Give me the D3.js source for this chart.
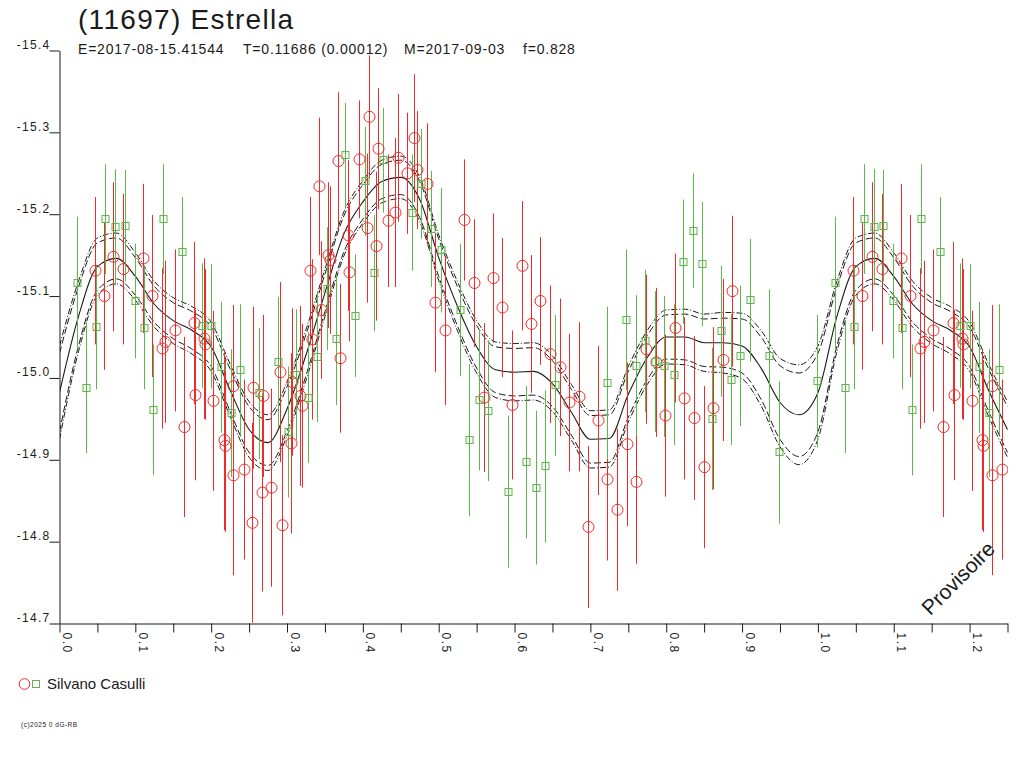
<!DOCTYPE html>
<html>
<head>
<meta charset="utf-8">
<script src="https://cdn.jsdelivr.net/npm/d3@7"></script>
<style>
	body { margin: 0; background: #fff; }
	svg { display: block; font-family: "Liberation Sans", Arial, sans-serif; }
</style>
</head>
<body>
<svg id="chart" width="1024" height="768"></svg>
<script>
// lightcurve of (11697) Estrella, phase vs reduced magnitude

const title = "(11697) Estrella";
const infoParts = ["E=2017-08-15.41544", "T=0.11686 (0.00012)", "M=2017-09-03", "f=0.828"];
const observer = "Silvano Casulli";

const xTickLabels = ["0.0", "0.1", "0.2", "0.3", "0.4", "0.5", "0.6", "0.7", "0.8", "0.9", "1.0", "1.1", "1.2"];
const yTickLabels = ["-15.4", "-15.3", "-15.2", "-15.1", "-15.0", "-14.9", "-14.8", "-14.7"];

// red circles
const redPhase = [0.0465, 0.0588, 0.0712, 0.0840, 0.1096, 0.1219, 0.1347, 0.1396, 0.1524, 0.1647,
	0.1775, 0.1793, 0.1903, 0.1917, 0.2027, 0.2164, 0.2177, 0.2292, 0.2292, 0.2428,
	0.2543, 0.2552, 0.2667, 0.2680, 0.2790, 0.2914, 0.2936, 0.3046, 0.3060, 0.3170,
	0.3201, 0.3298, 0.3329, 0.3421, 0.3443, 0.3544, 0.3561, 0.3693, 0.3675, 0.3803,
	0.3820, 0.3947, 0.4057, 0.4075, 0.4175, 0.4202, 0.4329, 0.4430, 0.4457, 0.4583,
	0.4680, 0.4711, 0.4842, 0.4956, 0.5088, 0.5333, 0.5461, 0.5597, 0.5715, 0.5838,
	0.5965, 0.6092, 0.6215, 0.6342, 0.6469, 0.6597, 0.6719, 0.6851, 0.6974, 0.7097,
	0.7225, 0.7352, 0.7480, 0.7603, 0.7731, 0.7859, 0.7982, 0.8110, 0.8238, 0.8366,
	0.8493, 0.8617, 0.8744, 0.8863];
const redMag = [-15.131, -15.100, -15.148, -15.133, -15.146, -15.100, -15.036, -15.044, -15.058, -14.940,
	-15.067, -14.979, -15.048, -15.041, -14.972, -14.924, -14.917, -14.990, -14.881, -14.888,
	-14.823, -14.988, -14.860, -14.978, -14.866, -15.007, -14.820, -14.920, -14.995, -14.978,
	-14.966, -15.131, -15.047, -15.234, -15.083, -15.150, -15.144, -15.024, -15.265, -15.174,
	-15.129, -15.267, -15.183, -15.319, -15.161, -15.280, -15.192, -15.202, -15.269, -15.250,
	-15.293, -15.254, -15.237, -15.092, -15.058, -15.193, -15.116, -14.976, -15.122, -15.086,
	-14.967, -15.137, -15.066, -15.094, -15.029, -15.013, -14.970, -14.977, -14.818, -14.948,
	-14.876, -14.839, -14.919, -14.873, -15.035, -15.019, -14.954, -15.061, -14.975, -14.951,
	-14.891, -14.963, -15.022, -15.106];
const redErr = [0.090, 0.090, 0.091, 0.092, 0.091, 0.099, 0.098, 0.099, 0.099, 0.110,
	0.099, 0.104, 0.098, 0.092, 0.110, 0.110, 0.105, 0.099, 0.122, 0.110,
	0.122, 0.099, 0.121, 0.099, 0.121, 0.110, 0.110, 0.110, 0.090, 0.110,
	0.100, 0.090, 0.098, 0.084, 0.084, 0.089, 0.090, 0.091, 0.084, 0.092,
	0.084, 0.072, 0.091, 0.075, 0.091, 0.074, 0.081, 0.091, 0.078, 0.074,
	0.078, 0.072, 0.074, 0.085, 0.091, 0.074, 0.078, 0.091, 0.079, 0.085,
	0.091, 0.079, 0.084, 0.078, 0.084, 0.084, 0.084, 0.091, 0.099, 0.091,
	0.099, 0.099, 0.100, 0.100, 0.091, 0.091, 0.099, 0.091, 0.099, 0.100,
	0.099, 0.099, 0.099, 0.092];

// green squares
const greenPhase = [0.0231, 0.0354, 0.0478, 0.0606, 0.0734, 0.0862, 0.0990, 0.1113, 0.1237, 0.1365,
	0.1616, 0.1877, 0.2000, 0.2128, 0.2256, 0.2384, 0.2632, 0.2883, 0.3011, 0.3117,
	0.3271, 0.3391, 0.3522, 0.3640, 0.3763, 0.3895, 0.4022, 0.4145, 0.4272, 0.4649,
	0.4772, 0.4899, 0.5026, 0.5276, 0.5404, 0.5527, 0.5650, 0.5908, 0.6154, 0.6281,
	0.6408, 0.6540, 0.7216, 0.7467, 0.7595, 0.7722, 0.7846, 0.7974, 0.8097, 0.8220,
	0.8348, 0.8471, 0.8599, 0.8727, 0.8850, 0.8978, 0.9105, 0.9357, 0.9484, 0.9987];
const greenMag = [-15.116, -14.988, -15.062, -15.194, -15.184, -15.186, -15.094, -15.061, -14.961, -15.194,
	-15.154, -15.064, -15.063, -15.013, -14.957, -15.010, -14.981, -15.019, -14.934, -15.004,
	-14.976, -15.026, -15.109, -15.047, -15.272, -15.076, -15.240, -15.128, -15.266, -15.202,
	-15.237, -15.182, -15.156, -15.083, -14.924, -14.973, -14.960, -14.861, -14.897, -14.866,
	-14.892, -14.991, -14.994, -15.071, -15.015, -15.045, -15.020, -15.014, -15.004, -15.142,
	-15.180, -15.139, -14.950, -15.057, -14.998, -15.027, -15.095, -15.027, -14.909, -14.996];
const greenErr = [0.081, 0.080, 0.076, 0.067, 0.071, 0.068, 0.070, 0.075, 0.080, 0.067,
	0.067, 0.076, 0.076, 0.080, 0.078, 0.080, 0.080, 0.080, 0.080, 0.080,
	0.080, 0.080, 0.075, 0.080, 0.064, 0.075, 0.067, 0.071, 0.064, 0.071,
	0.067, 0.071, 0.076, 0.081, 0.093, 0.086, 0.086, 0.093, 0.093, 0.094,
	0.093, 0.086, 0.093, 0.086, 0.086, 0.087, 0.086, 0.086, 0.086, 0.076,
	0.070, 0.076, 0.087, 0.080, 0.080, 0.086, 0.075, 0.081, 0.087, 0.081];

// fitted curve and its two confidence envelopes, read at 0.025 phase steps
const fitPhase = [0, 0.025, 0.05, 0.075, 0.1, 0.125, 0.15, 0.175, 0.2, 0.225,
	0.25, 0.275, 0.3, 0.325, 0.35, 0.375, 0.4, 0.425, 0.45, 0.475,
	0.5, 0.525, 0.55, 0.575, 0.6, 0.625, 0.65, 0.675, 0.7, 0.725,
	0.75, 0.775, 0.8, 0.825, 0.85, 0.875, 0.9, 0.925, 0.95, 0.975, 1.0];
const fitMag = [-14.982, -15.075, -15.136, -15.146, -15.124, -15.090, -15.070, -15.058, -15.038, -14.985,
	-14.937, -14.921, -14.962, -15.028, -15.104, -15.176, -15.215, -15.240, -15.245, -15.218,
	-15.147, -15.087, -15.038, -15.010, -15.007, -15.008, -14.993, -14.958, -14.925, -14.926,
	-14.980, -15.025, -15.050, -15.050, -15.043, -15.043, -15.039, -15.012, -14.970, -14.955, -14.982];
const bandInner = [0.048, 0.036, 0.029, 0.025, 0.023, 0.022, 0.022, 0.023, 0.024, 0.026,
	0.028, 0.028, 0.027, 0.025, 0.023, 0.022, 0.021, 0.021, 0.021, 0.022,
	0.023, 0.024, 0.026, 0.028, 0.029, 0.029, 0.028, 0.028, 0.029, 0.029,
	0.028, 0.027, 0.027, 0.028, 0.029, 0.030, 0.033, 0.038, 0.045, 0.051, 0.048];
const bandOuter = [0.057, 0.043, 0.035, 0.031, 0.029, 0.028, 0.028, 0.029, 0.030, 0.032,
	0.034, 0.034, 0.033, 0.031, 0.029, 0.027, 0.026, 0.026, 0.026, 0.027,
	0.028, 0.030, 0.032, 0.034, 0.035, 0.035, 0.034, 0.034, 0.035, 0.035,
	0.034, 0.033, 0.033, 0.034, 0.035, 0.037, 0.040, 0.046, 0.054, 0.061, 0.057];

const maxPhase = 1.25;

function drawChart() {
	const svg = d3.select("#chart");
	const x = d3.scaleLinear().domain([0, maxPhase]).range([59.5, 1007.5]);
	const y = d3.scaleLinear().domain([-15.4, -14.7]).range([50.5, 623.5]);
	const ink = "#1a1a1a";
	const red = "#ee2a2a", green = "#5cb848";

	svg.append("rect").attr("width", 1024).attr("height", 768).attr("fill", "#fff");

	svg.append("defs").append("clipPath")
		.attr("id", "plot")
		.append("rect")
		.attr("x", 60).attr("y", 40)
		.attr("width", 948).attr("height", 583);

	// fit: one period plus the wrapped start past phase 1
	let fit = fitPhase.map((p, i) => ({p: p, m: fitMag[i], a: bandInner[i], b: bandOuter[i]}));
	fit = fit.concat(fit.filter(d => d.p > 0 && d.p + 1 <= maxPhase).map(d => Object.assign({}, d, {p: d.p + 1})));

	const line = acc => d3.line()
		.x(d => x(d.p))
		.y(d => y(acc(d)))
		.curve(d3.curveMonotoneX);

	const curves = svg.append("g").attr("clip-path", "url(#plot)").attr("fill", "none").attr("stroke", ink);
	curves.append("path").datum(fit).attr("d", line(d => d.m)).attr("stroke-width", 1.1);
	curves.append("path").datum(fit).attr("d", line(d => d.m - d.a)).attr("stroke-dasharray", "7,3");
	curves.append("path").datum(fit).attr("d", line(d => d.m + d.a)).attr("stroke-dasharray", "7,3");
	curves.append("path").datum(fit).attr("d", line(d => d.m - d.b)).attr("stroke-dasharray", "6,2,1,2");
	curves.append("path").datum(fit).attr("d", line(d => d.m + d.b)).attr("stroke-dasharray", "6,2,1,2");

	function session(phase, mag, err) {
		let pts = phase.map((p, i) => ({p: p, m: mag[i], e: err[i]}));
		return pts.concat(pts.filter(d => d.p + 1 <= maxPhase).map(d => ({p: d.p + 1, m: d.m, e: d.e})));
	}
	const reds = session(redPhase, redMag, redErr);
	const greens = session(greenPhase, greenMag, greenErr);

	const pts = svg.append("g").attr("clip-path", "url(#plot)").attr("fill", "none");
	[[reds, red], [greens, green]].forEach(([data, col]) => {
		pts.append("g").selectAll("line")
			.data(data)
			.join("line")
			.attr("x1", d => Math.round(x(d.p)) + 0.5)
			.attr("x2", d => Math.round(x(d.p)) + 0.5)
			.attr("y1", d => y(d.m - d.e))
			.attr("y2", d => y(d.m + d.e))
			.attr("stroke", col);
	});
	pts.append("g").selectAll("circle")
		.data(reds)
		.join("circle")
		.attr("cx", d => Math.round(x(d.p)) + 0.5)
		.attr("cy", d => y(d.m))
		.attr("r", 5.5)
		.attr("stroke", red);
	pts.append("g").selectAll("rect")
		.data(greens)
		.join("rect")
		.attr("x", d => Math.round(x(d.p)) - 3)
		.attr("y", d => Math.round(y(d.m)) - 3.5)
		.attr("width", 7)
		.attr("height", 7)
		.attr("stroke", green);

	// axes
	const yAxis = svg.append("g")
		.attr("transform", "translate(59.5,0)")
		.call(d3.axisLeft(y)
			.tickValues(yTickLabels.map(Number))
			.tickSize(10)
			.tickSizeOuter(0)
			.tickFormat((d, i) => yTickLabels[i]));
	yAxis.selectAll("text")
		.attr("x", -9)
		.attr("dy", "-2")
		.attr("font-size", 12)
		.attr("letter-spacing", 1.3)
		.attr("fill", ink);

	const xAxis = svg.append("g")
		.attr("transform", "translate(0,623.5)")
		.call(d3.axisBottom(x)
			.tickValues(d3.range(0, 26).map(i => i * 0.05))
			.tickSize(9)
			.tickSizeOuter(0)
			.tickFormat((d, i) => i % 2 === 0 && xTickLabels[i / 2] ? xTickLabels[i / 2] : ""));
	xAxis.selectAll("text")
		.attr("transform", "translate(3,9) rotate(90)")
		.attr("x", 0)
		.attr("y", 0)
		.attr("dy", 0)
		.attr("text-anchor", "start")
		.attr("font-size", 12)
		.attr("letter-spacing", 1.5)
		.attr("fill", ink);

	[yAxis, xAxis].forEach(a => {
		a.attr("font-family", null);
		a.selectAll("path, line").attr("stroke", ink);
	});

	// titles
	svg.append("text")
		.attr("x", 78).attr("y", 29)
		.attr("font-size", 28)
		.attr("letter-spacing", 1.3)
		.attr("fill", ink)
		.text(title);

	const infoX = [78, 243, 404, 523];
	svg.append("g").selectAll("text")
		.data(infoParts)
		.join("text")
		.attr("x", (d, i) => infoX[i])
		.attr("y", 54)
		.attr("font-size", 14)
		.attr("letter-spacing", 0.8)
		.attr("fill", ink)
		.text(d => d);

	// legend
	svg.append("circle").attr("cx", 24.5).attr("cy", 684).attr("r", 5.3)
		.attr("fill", "none").attr("stroke", red);
	svg.append("rect").attr("x", 32.5).attr("y", 680.5).attr("width", 7).attr("height", 7)
		.attr("fill", "none").attr("stroke", green);
	svg.append("text")
		.attr("x", 47).attr("y", 688.5)
		.attr("font-size", 15)
		.attr("fill", ink)
		.text(observer);

	svg.append("text")
		.attr("x", 21).attr("y", 727)
		.attr("font-size", 6.5)
		.attr("letter-spacing", 0.5)
		.attr("fill", ink)
		.text("(c)2025 0 dG-RB");

	svg.append("text")
		.attr("transform", "translate(958,578) rotate(-45)")
		.attr("text-anchor", "middle")
		.attr("dominant-baseline", "central")
		.attr("font-size", 21)
		.attr("fill", ink)
		.text("Provisoire");
}

window.addEventListener("load", drawChart);
</script>
</body>
</html>
